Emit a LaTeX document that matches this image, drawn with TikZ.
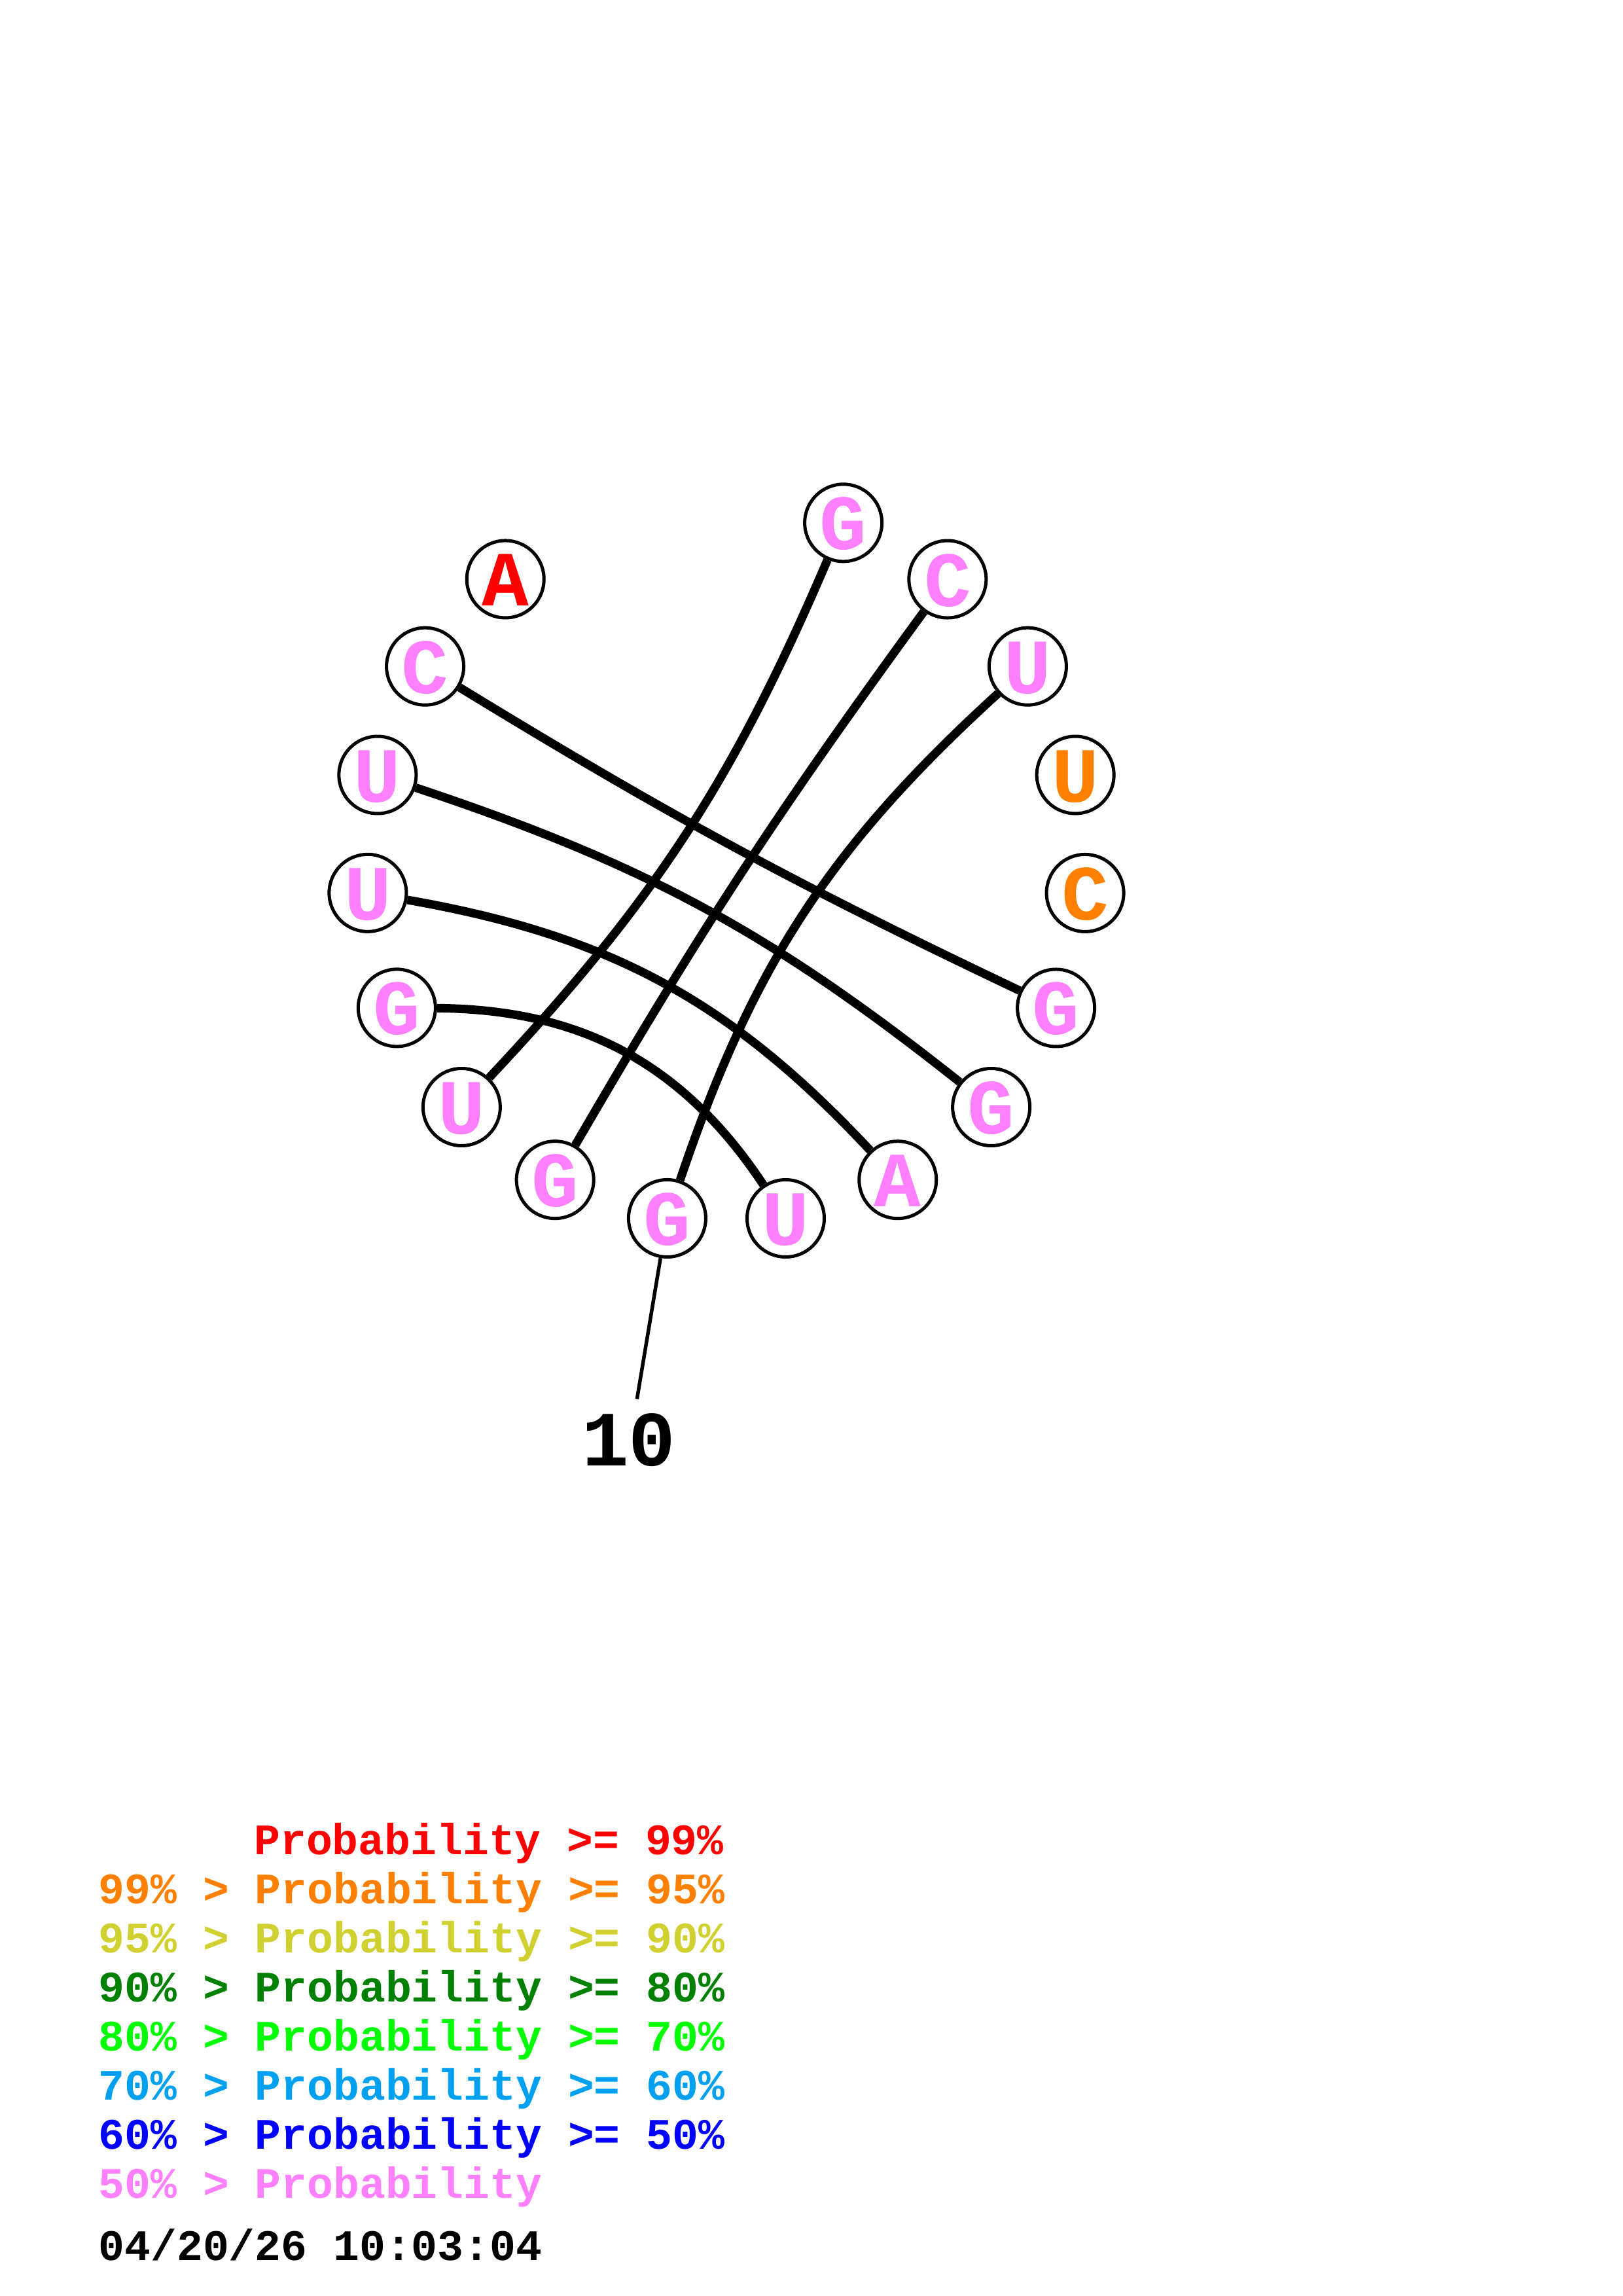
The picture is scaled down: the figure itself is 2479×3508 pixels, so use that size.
\documentclass[tikz,border=0pt]{standalone}
\usepackage{fontspec}
\newfontfamily\monob{Liberation Mono}[WordSpace={1,0,0}]
\definecolor{pinkn}{RGB}{255,128,255}
\definecolor{orangen}{RGB}{255,128,0}
\definecolor{redn}{RGB}{255,0,0}
\definecolor{yeln}{RGB}{208,208,48}
\definecolor{dgreenn}{RGB}{0,128,0}
\definecolor{lgreenn}{RGB}{0,255,0}
\definecolor{skyn}{RGB}{0,160,240}
\definecolor{bluen}{RGB}{0,0,255}
\tikzset{
  nt/.style={circle, draw=black, line width=0.5mm, minimum size=11.8mm, inner sep=0pt,
    text height=8.2mm, text depth=-0.6mm,
    font=\monob\bfseries\fontsize{34}{34}\selectfont},
  pairline/.style={line width=1.3mm},
  tickline/.style={line width=0.55mm},
  numlab/.style={inner sep=0pt, font=\monob\bfseries\fontsize{34}{34}\selectfont},
  legend/.style={anchor=base west, inner sep=0pt, font=\monob\bfseries\fontsize{18.9}{18.9}\selectfont}
}
\begin{document}
\begin{tikzpicture}[x=0.1mm,y=0.1mm]
\useasboundingbox (0,0) rectangle (2479,-3508);
\begin{scope}[shift={(1110,-1319)}]
  \node[nt, text=pinkn]   (n0)  at (279.47:550) {U};
  \node[nt, text=pinkn]   (n1)  at (298.42:550) {A};
  \node[nt, text=pinkn]   (n2)  at (317.37:550) {G};
  \node[nt, text=pinkn]   (n3)  at (336.31:550) {G};
  \node[nt, text=orangen] (n4)  at (355.26:550) {C};
  \node[nt, text=orangen] (n5)  at (14.21:550)  {U};
  \node[nt, text=pinkn]   (n6)  at (33.16:550)  {U};
  \node[nt, text=pinkn]   (n7)  at (52.10:550)  {C};
  \node[nt, text=pinkn]   (n8)  at (71.05:550)  {G};
  \node[nt, text=redn]    (n11) at (127.89:550) {A};
  \node[nt, text=pinkn]   (n12) at (146.84:550) {C};
  \node[nt, text=pinkn]   (n13) at (165.79:550) {U};
  \node[nt, text=pinkn]   (n14) at (184.73:550) {U};
  \node[nt, text=pinkn]   (n15) at (203.68:550) {G};
  \node[nt, text=pinkn]   (n16) at (222.63:550) {U};
  \node[nt, text=pinkn]   (n17) at (241.57:550) {G};
  \node[nt, text=pinkn]   (n18) at (260.52:550) {G};
  \coordinate (t10) at (260.52:830);
  \node[numlab] (lab10) at (260.4:894) {10};
\end{scope}
\draw[pairline] (n3)  to[bend left=3]    (n12);
\draw[pairline] (n13) to[bend left=10]   (n2);
\draw[pairline] (n14) to[bend left=18.5] (n1);
\draw[pairline] (n15) to[bend left=28]   (n0);
\draw[pairline] (n8)  to[bend left=10]   (n16);
\draw[pairline] (n17) to[bend left=3]    (n7);
\draw[pairline] (n18) to[bend left=14.5] (n6);
\draw[tickline] (n18) -- (t10);
\node[legend, text=redn]    (leg1) at (387.6,-2833) {Probability >= 99\%};
\node[legend, text=orangen] (leg2) at (150,-2908) {99\% > Probability >= 95\%};
\node[legend, text=yeln]    (leg3) at (150,-2983) {95\% > Probability >= 90\%};
\node[legend, text=dgreenn] (leg4) at (150,-3058) {90\% > Probability >= 80\%};
\node[legend, text=lgreenn] (leg5) at (150,-3133) {80\% > Probability >= 70\%};
\node[legend, text=skyn]    (leg6) at (150,-3208) {70\% > Probability >= 60\%};
\node[legend, text=bluen]   (leg7) at (150,-3283) {60\% > Probability >= 50\%};
\node[legend, text=pinkn]   (leg8) at (150,-3358) {50\% > Probability};
\node[legend, text=black]   (date) at (150,-3453) {04/20/26 10:03:04};
\end{tikzpicture}
\end{document}
